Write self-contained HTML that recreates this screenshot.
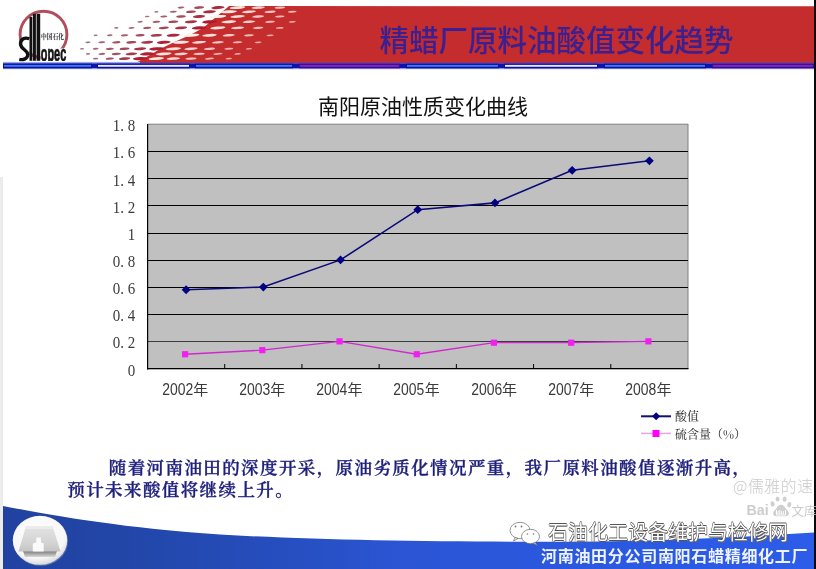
<!DOCTYPE html>
<html><head><meta charset="utf-8">
<style>
html,body{margin:0;padding:0;}
body{width:816px;height:569px;position:relative;overflow:hidden;background:#fff;font-family:"Liberation Sans","Noto Sans CJK SC",sans-serif;}
.abs{position:absolute;}
svg{position:absolute;left:0;top:0;}
.banner-title{position:absolute;left:379.5px;top:16px;font-weight:500;font-family:"Noto Sans CJK SC",sans-serif;font-size:29.5px;color:#3a2090;white-space:nowrap;letter-spacing:0px;line-height:44px;}
.ctitle{position:absolute;left:318px;top:90px;font-family:"Noto Sans CJK SC",sans-serif;font-size:21px;color:#111;white-space:nowrap;line-height:30px;}
.yl{position:absolute;left:95.3px;width:40px;transform:translateY(1.3px) scaleY(1.1);text-align:right;font-family:"Liberation Serif","Noto Serif CJK SC",serif;font-size:15px;line-height:18px;color:#3c3c3c;white-space:pre;}
.xl{position:absolute;top:380.8px;width:60px;text-align:center;font-family:"Liberation Sans","Noto Sans CJK SC",sans-serif;font-size:15px;line-height:18px;color:#3a3a3a;white-space:nowrap;}
.xl .d{display:inline-block;transform:scale(0.93,1.07);transform-origin:100% 60%;margin-left:-2.3px;}
.leg{position:absolute;left:675px;font-family:"Noto Serif CJK SC",serif;font-size:12px;line-height:14px;color:#222;white-space:nowrap;}
.para{position:absolute;white-space:nowrap;font-family:"Liberation Serif","Noto Serif CJK SC",serif;font-weight:600;font-size:17.5px;letter-spacing:1.4px;line-height:21.5px;color:#1e1e7c;-webkit-text-stroke:0.3px #1e1e7c;}
.foot{position:absolute;left:541px;top:544px;letter-spacing:0.7px;font-family:"Noto Sans CJK SC",sans-serif;font-weight:bold;font-size:16px;color:#eef3ff;white-space:nowrap;line-height:22px;}
.wm{position:absolute;left:548px;top:519px;font-family:"Noto Sans CJK SC",sans-serif;font-size:20px;color:#fff;white-space:nowrap;line-height:26px;text-shadow:0.6px 0 0.3px #555,-0.6px 0 0.3px #555,0 0.6px 0.3px #555,0 -0.6px 0.3px #555,0.8px 0.8px 0.6px #777;}
.wm2{position:absolute;left:733px;top:475.5px;letter-spacing:0.6px;font-family:"Noto Sans CJK SC",sans-serif;font-size:15.8px;font-weight:300;color:#cacaca;white-space:nowrap;line-height:20px;}
.bai{position:absolute;left:746.5px;top:502px;font-family:"Liberation Sans",sans-serif;font-weight:bold;font-size:14.2px;color:#cdcdcd;white-space:nowrap;line-height:16px;}
.wk{position:absolute;left:791.5px;top:502.5px;font-family:"Noto Sans CJK SC",sans-serif;font-size:12.5px;color:#cbcbcb;white-space:nowrap;line-height:16px;}
</style></head><body>
<svg width="816" height="569" viewBox="0 0 816 569">
<defs>
<linearGradient id="bg1" gradientUnits="userSpaceOnUse" x1="3" x2="814" y1="0" y2="0"><stop offset="0" stop-color="#2142a0"/><stop offset="0.15" stop-color="#2246a8"/><stop offset="0.3" stop-color="#254cb9"/><stop offset="0.49" stop-color="#2b55d4"/><stop offset="0.86" stop-color="#2a5ae6"/><stop offset="1" stop-color="#2c5ce8"/></linearGradient>
<radialGradient id="cg" cx="0.45" cy="0.35" r="0.7"><stop offset="0" stop-color="#ffffff"/><stop offset="0.75" stop-color="#f6f6f6"/><stop offset="1" stop-color="#d0d0d0"/></radialGradient>
</defs>
<!-- left gray strip -->
<rect x="0" y="177" width="3" height="392" fill="#ececec"/>
<!-- red banner -->
<polygon points="814,6.3 229,6 228,7 216,17 203,28 190,35 174.5,42 160,49 150,55 141,60 137,62.2 814,62.2" fill="#c42c2e"/>
<ellipse cx="181.0" cy="7.6" rx="3.36" ry="1.00" fill="rgb(133,55,75)" opacity="0.77" transform="rotate(-4 181.0 7.6)"/>
<ellipse cx="199.1" cy="7.6" rx="4.98" ry="1.23" fill="rgb(149,43,63)" opacity="0.86" transform="rotate(-4 199.1 7.6)"/>
<ellipse cx="217.9" cy="7.6" rx="6.66" ry="1.48" fill="rgb(166,31,51)" opacity="0.95" transform="rotate(-4 217.9 7.6)"/>
<ellipse cx="237.6" cy="7.6" rx="7.88" ry="1.42" fill="#fff0ea" opacity="0.95" transform="rotate(-4 237.6 7.6)"/>
<ellipse cx="258.2" cy="7.6" rx="6.64" ry="1.25" fill="#fff0ea" opacity="0.86" transform="rotate(-4 258.2 7.6)"/>
<ellipse cx="279.8" cy="7.6" rx="5.35" ry="1.08" fill="#fff0ea" opacity="0.76" transform="rotate(-4 279.8 7.6)"/>
<ellipse cx="156.4" cy="11.8" rx="2.10" ry="0.82" fill="rgb(121,64,84)" opacity="0.71" transform="rotate(-4 156.4 11.8)"/>
<ellipse cx="173.3" cy="11.8" rx="3.49" ry="1.02" fill="rgb(134,54,74)" opacity="0.78" transform="rotate(-4 173.3 11.8)"/>
<ellipse cx="191.0" cy="11.8" rx="4.94" ry="1.23" fill="rgb(149,43,63)" opacity="0.86" transform="rotate(-4 191.0 11.8)"/>
<ellipse cx="209.5" cy="11.8" rx="6.46" ry="1.45" fill="rgb(164,32,52)" opacity="0.94" transform="rotate(-4 209.5 11.8)"/>
<ellipse cx="228.8" cy="11.8" rx="8.11" ry="1.45" fill="#fff0ea" opacity="0.97" transform="rotate(-4 228.8 11.8)"/>
<ellipse cx="249.0" cy="11.8" rx="6.89" ry="1.29" fill="#fff0ea" opacity="0.88" transform="rotate(-4 249.0 11.8)"/>
<ellipse cx="270.1" cy="11.8" rx="5.63" ry="1.12" fill="#fff0ea" opacity="0.78" transform="rotate(-4 270.1 11.8)"/>
<ellipse cx="292.2" cy="11.8" rx="4.30" ry="0.94" fill="#fff0ea" opacity="0.69" transform="rotate(-4 292.2 11.8)"/>
<ellipse cx="147.2" cy="16.5" rx="2.31" ry="0.85" fill="rgb(123,62,82)" opacity="0.72" transform="rotate(-4 147.2 16.5)"/>
<ellipse cx="163.8" cy="16.5" rx="3.55" ry="1.03" fill="rgb(135,53,73)" opacity="0.78" transform="rotate(-4 163.8 16.5)"/>
<ellipse cx="181.0" cy="16.5" rx="4.84" ry="1.21" fill="rgb(148,44,64)" opacity="0.85" transform="rotate(-4 181.0 16.5)"/>
<ellipse cx="199.1" cy="16.5" rx="6.19" ry="1.41" fill="rgb(161,34,54)" opacity="0.93" transform="rotate(-4 199.1 16.5)"/>
<ellipse cx="217.9" cy="16.5" rx="8.42" ry="1.49" fill="#fff0ea" opacity="0.99" transform="rotate(-4 217.9 16.5)"/>
<ellipse cx="237.6" cy="16.5" rx="7.24" ry="1.33" fill="#fff0ea" opacity="0.91" transform="rotate(-4 237.6 16.5)"/>
<ellipse cx="258.2" cy="16.5" rx="6.00" ry="1.17" fill="#fff0ea" opacity="0.81" transform="rotate(-4 258.2 16.5)"/>
<ellipse cx="279.8" cy="16.5" rx="4.71" ry="0.99" fill="#fff0ea" opacity="0.72" transform="rotate(-4 279.8 16.5)"/>
<ellipse cx="140.1" cy="21.8" rx="2.73" ry="0.91" fill="rgb(127,59,79)" opacity="0.74" transform="rotate(-4 140.1 21.8)"/>
<ellipse cx="156.4" cy="21.8" rx="3.83" ry="1.07" fill="rgb(138,51,71)" opacity="0.80" transform="rotate(-4 156.4 21.8)"/>
<ellipse cx="173.3" cy="21.8" rx="4.98" ry="1.23" fill="rgb(149,43,63)" opacity="0.86" transform="rotate(-4 173.3 21.8)"/>
<ellipse cx="191.0" cy="21.8" rx="6.18" ry="1.41" fill="rgb(161,34,54)" opacity="0.93" transform="rotate(-4 191.0 21.8)"/>
<ellipse cx="209.5" cy="21.8" rx="7.44" ry="1.59" fill="rgb(174,25,45)" opacity="1.00" transform="rotate(-4 209.5 21.8)"/>
<ellipse cx="228.8" cy="21.8" rx="7.39" ry="1.35" fill="#fff0ea" opacity="0.92" transform="rotate(-4 228.8 21.8)"/>
<ellipse cx="249.0" cy="21.8" rx="6.18" ry="1.19" fill="#fff0ea" opacity="0.83" transform="rotate(-4 249.0 21.8)"/>
<ellipse cx="270.1" cy="21.8" rx="4.91" ry="1.02" fill="#fff0ea" opacity="0.73" transform="rotate(-4 270.1 21.8)"/>
<ellipse cx="292.2" cy="21.8" rx="3.59" ry="0.85" fill="#fff0ea" opacity="0.63" transform="rotate(-4 292.2 21.8)"/>
<ellipse cx="116.3" cy="27.9" rx="2.15" ry="0.82" fill="rgb(121,63,83)" opacity="0.71" transform="rotate(-4 116.3 27.9)"/>
<ellipse cx="131.4" cy="27.9" rx="3.08" ry="0.96" fill="rgb(130,57,77)" opacity="0.76" transform="rotate(-4 131.4 27.9)"/>
<ellipse cx="147.2" cy="27.9" rx="4.06" ry="1.10" fill="rgb(140,50,70)" opacity="0.81" transform="rotate(-4 147.2 27.9)"/>
<ellipse cx="163.8" cy="27.9" rx="5.07" ry="1.25" fill="rgb(150,42,62)" opacity="0.87" transform="rotate(-4 163.8 27.9)"/>
<ellipse cx="181.0" cy="27.9" rx="6.14" ry="1.40" fill="rgb(161,34,54)" opacity="0.93" transform="rotate(-4 181.0 27.9)"/>
<ellipse cx="199.1" cy="27.9" rx="7.25" ry="1.56" fill="rgb(172,26,46)" opacity="0.99" transform="rotate(-4 199.1 27.9)"/>
<ellipse cx="217.9" cy="27.9" rx="7.61" ry="1.38" fill="#fff0ea" opacity="0.93" transform="rotate(-4 217.9 27.9)"/>
<ellipse cx="237.6" cy="27.9" rx="6.43" ry="1.22" fill="#fff0ea" opacity="0.84" transform="rotate(-4 237.6 27.9)"/>
<ellipse cx="258.2" cy="27.9" rx="5.19" ry="1.06" fill="#fff0ea" opacity="0.75" transform="rotate(-4 258.2 27.9)"/>
<ellipse cx="279.8" cy="27.9" rx="3.90" ry="0.89" fill="#fff0ea" opacity="0.66" transform="rotate(-4 279.8 27.9)"/>
<ellipse cx="95.6" cy="35.3" rx="2.04" ry="0.81" fill="rgb(120,64,84)" opacity="0.70" transform="rotate(-4 95.6 35.3)"/>
<ellipse cx="109.8" cy="35.3" rx="2.87" ry="0.93" fill="rgb(128,58,78)" opacity="0.75" transform="rotate(-4 109.8 35.3)"/>
<ellipse cx="124.6" cy="35.3" rx="3.73" ry="1.05" fill="rgb(137,52,72)" opacity="0.79" transform="rotate(-4 124.6 35.3)"/>
<ellipse cx="140.1" cy="35.3" rx="4.63" ry="1.18" fill="rgb(146,45,65)" opacity="0.84" transform="rotate(-4 140.1 35.3)"/>
<ellipse cx="156.4" cy="35.3" rx="5.58" ry="1.32" fill="rgb(155,38,58)" opacity="0.90" transform="rotate(-4 156.4 35.3)"/>
<ellipse cx="173.3" cy="35.3" rx="6.57" ry="1.46" fill="rgb(165,31,51)" opacity="0.95" transform="rotate(-4 173.3 35.3)"/>
<ellipse cx="191.0" cy="35.3" rx="8.40" ry="1.49" fill="#fff0ea" opacity="0.99" transform="rotate(-4 191.0 35.3)"/>
<ellipse cx="209.5" cy="35.3" rx="7.29" ry="1.34" fill="#fff0ea" opacity="0.91" transform="rotate(-4 209.5 35.3)"/>
<ellipse cx="228.8" cy="35.3" rx="6.13" ry="1.18" fill="#fff0ea" opacity="0.82" transform="rotate(-4 228.8 35.3)"/>
<ellipse cx="249.0" cy="35.3" rx="4.92" ry="1.02" fill="#fff0ea" opacity="0.73" transform="rotate(-4 249.0 35.3)"/>
<ellipse cx="270.1" cy="35.3" rx="3.65" ry="0.85" fill="#fff0ea" opacity="0.64" transform="rotate(-4 270.1 35.3)"/>
<ellipse cx="88.0" cy="42.3" rx="2.62" ry="0.89" fill="rgb(126,60,80)" opacity="0.73" transform="rotate(-4 88.0 42.3)"/>
<ellipse cx="101.8" cy="42.3" rx="3.41" ry="1.00" fill="rgb(134,54,74)" opacity="0.78" transform="rotate(-4 101.8 42.3)"/>
<ellipse cx="116.3" cy="42.3" rx="4.23" ry="1.12" fill="rgb(142,48,68)" opacity="0.82" transform="rotate(-4 116.3 42.3)"/>
<ellipse cx="131.4" cy="42.3" rx="5.09" ry="1.25" fill="rgb(150,42,62)" opacity="0.87" transform="rotate(-4 131.4 42.3)"/>
<ellipse cx="147.2" cy="42.3" rx="5.99" ry="1.38" fill="rgb(159,35,55)" opacity="0.92" transform="rotate(-4 147.2 42.3)"/>
<ellipse cx="163.8" cy="42.3" rx="6.93" ry="1.52" fill="rgb(169,29,49)" opacity="0.97" transform="rotate(-4 163.8 42.3)"/>
<ellipse cx="181.0" cy="42.3" rx="8.07" ry="1.44" fill="#fff0ea" opacity="0.97" transform="rotate(-4 181.0 42.3)"/>
<ellipse cx="199.1" cy="42.3" rx="6.99" ry="1.30" fill="#fff0ea" opacity="0.89" transform="rotate(-4 199.1 42.3)"/>
<ellipse cx="217.9" cy="42.3" rx="5.86" ry="1.15" fill="#fff0ea" opacity="0.80" transform="rotate(-4 217.9 42.3)"/>
<ellipse cx="237.6" cy="42.3" rx="4.67" ry="0.99" fill="#fff0ea" opacity="0.71" transform="rotate(-4 237.6 42.3)"/>
<ellipse cx="258.2" cy="42.3" rx="3.44" ry="0.83" fill="#fff0ea" opacity="0.62" transform="rotate(-4 258.2 42.3)"/>
<ellipse cx="82.0" cy="48.8" rx="2.03" ry="0.80" fill="rgb(120,64,84)" opacity="0.70" transform="rotate(-4 82.0 48.8)"/>
<ellipse cx="95.6" cy="48.8" rx="2.98" ry="0.94" fill="rgb(129,57,77)" opacity="0.75" transform="rotate(-4 95.6 48.8)"/>
<ellipse cx="109.8" cy="48.8" rx="3.97" ry="1.09" fill="rgb(139,50,70)" opacity="0.81" transform="rotate(-4 109.8 48.8)"/>
<ellipse cx="124.6" cy="48.8" rx="5.00" ry="1.24" fill="rgb(150,43,63)" opacity="0.86" transform="rotate(-4 124.6 48.8)"/>
<ellipse cx="140.1" cy="48.8" rx="6.09" ry="1.39" fill="rgb(160,35,55)" opacity="0.92" transform="rotate(-4 140.1 48.8)"/>
<ellipse cx="156.4" cy="48.8" rx="7.22" ry="1.56" fill="rgb(172,27,47)" opacity="0.98" transform="rotate(-4 156.4 48.8)"/>
<ellipse cx="173.3" cy="48.8" rx="7.73" ry="1.40" fill="#fff0ea" opacity="0.94" transform="rotate(-4 173.3 48.8)"/>
<ellipse cx="191.0" cy="48.8" rx="6.67" ry="1.26" fill="#fff0ea" opacity="0.86" transform="rotate(-4 191.0 48.8)"/>
<ellipse cx="209.5" cy="48.8" rx="5.56" ry="1.11" fill="#fff0ea" opacity="0.78" transform="rotate(-4 209.5 48.8)"/>
<ellipse cx="228.8" cy="48.8" rx="4.40" ry="0.95" fill="#fff0ea" opacity="0.69" transform="rotate(-4 228.8 48.8)"/>
<ellipse cx="249.0" cy="48.8" rx="3.18" ry="0.79" fill="#fff0ea" opacity="0.60" transform="rotate(-4 249.0 48.8)"/>
<ellipse cx="88.0" cy="53.9" rx="2.23" ry="0.83" fill="rgb(122,63,83)" opacity="0.71" transform="rotate(-4 88.0 53.9)"/>
<ellipse cx="101.8" cy="53.9" rx="3.38" ry="1.00" fill="rgb(133,54,74)" opacity="0.78" transform="rotate(-4 101.8 53.9)"/>
<ellipse cx="116.3" cy="53.9" rx="4.57" ry="1.17" fill="rgb(145,46,66)" opacity="0.84" transform="rotate(-4 116.3 53.9)"/>
<ellipse cx="131.4" cy="53.9" rx="5.82" ry="1.36" fill="rgb(158,37,57)" opacity="0.91" transform="rotate(-4 131.4 53.9)"/>
<ellipse cx="147.2" cy="53.9" rx="7.12" ry="1.54" fill="rgb(171,27,47)" opacity="0.98" transform="rotate(-4 147.2 53.9)"/>
<ellipse cx="163.8" cy="53.9" rx="7.78" ry="1.40" fill="#fff0ea" opacity="0.95" transform="rotate(-4 163.8 53.9)"/>
<ellipse cx="181.0" cy="53.9" rx="6.75" ry="1.27" fill="#fff0ea" opacity="0.87" transform="rotate(-4 181.0 53.9)"/>
<ellipse cx="199.1" cy="53.9" rx="5.67" ry="1.12" fill="#fff0ea" opacity="0.79" transform="rotate(-4 199.1 53.9)"/>
<ellipse cx="217.9" cy="53.9" rx="4.53" ry="0.97" fill="#fff0ea" opacity="0.70" transform="rotate(-4 217.9 53.9)"/>
<ellipse cx="237.6" cy="53.9" rx="3.35" ry="0.81" fill="#fff0ea" opacity="0.61" transform="rotate(-4 237.6 53.9)"/>
<ellipse cx="95.6" cy="58.6" rx="2.72" ry="0.90" fill="rgb(127,59,79)" opacity="0.74" transform="rotate(-4 95.6 58.6)"/>
<ellipse cx="109.8" cy="58.6" rx="4.13" ry="1.11" fill="rgb(141,49,69)" opacity="0.82" transform="rotate(-4 109.8 58.6)"/>
<ellipse cx="124.6" cy="58.6" rx="5.62" ry="1.33" fill="rgb(156,38,58)" opacity="0.90" transform="rotate(-4 124.6 58.6)"/>
<ellipse cx="140.1" cy="58.6" rx="7.16" ry="1.55" fill="rgb(171,27,47)" opacity="0.98" transform="rotate(-4 140.1 58.6)"/>
<ellipse cx="156.4" cy="58.6" rx="7.73" ry="1.40" fill="#fff0ea" opacity="0.94" transform="rotate(-4 156.4 58.6)"/>
<ellipse cx="173.3" cy="58.6" rx="6.71" ry="1.26" fill="#fff0ea" opacity="0.87" transform="rotate(-4 173.3 58.6)"/>
<ellipse cx="191.0" cy="58.6" rx="5.65" ry="1.12" fill="#fff0ea" opacity="0.79" transform="rotate(-4 191.0 58.6)"/>
<ellipse cx="209.5" cy="58.6" rx="4.54" ry="0.97" fill="#fff0ea" opacity="0.70" transform="rotate(-4 209.5 58.6)"/>
<ellipse cx="228.8" cy="58.6" rx="3.38" ry="0.82" fill="#fff0ea" opacity="0.62" transform="rotate(-4 228.8 58.6)"/>
<!-- band -->
<linearGradient id="pg" x1="0" x2="0" y1="0" y2="1"><stop offset="0" stop-color="#a8356a"/><stop offset="1" stop-color="#5a2a98"/></linearGradient><linearGradient id="gg" x1="0" x2="0" y1="0" y2="1"><stop offset="0" stop-color="#b8b8f4"/><stop offset="1" stop-color="#ffffff"/></linearGradient><linearGradient id="bgr" x1="0" x2="0" y1="0" y2="1"><stop offset="0" stop-color="#d4d8fa"/><stop offset="1" stop-color="#3a48d8"/></linearGradient><rect x="3" y="61.8" width="137" height="2" fill="url(#bgr)"/><rect x="140" y="62" width="674" height="1.8" fill="url(#pg)"/><rect x="3" y="68.2" width="811" height="1.8" fill="url(#gg)"/><rect x="3" y="63.7" width="811" height="4.6" fill="#0a14b0"/>
<rect x="3" y="63.7" width="89" height="4.6" fill="#0a1290"/><rect x="4" y="64.9" width="87" height="1.9" fill="#3d78ff"/>
<rect x="97" y="63.7" width="93" height="4.6" fill="#0a1290"/><rect x="98" y="64.9" width="91" height="1.9" fill="#e4e4ff"/>
<rect x="195" y="63.7" width="98" height="4.6" fill="#0a1290"/><rect x="196" y="64.9" width="96" height="1.9" fill="#3d78ff"/>
<rect x="299" y="63.7" width="101" height="4.6" fill="#3a0c88"/><rect x="300" y="64.9" width="99" height="1.9" fill="#7a28c8"/>
<rect x="406" y="63.7" width="93" height="4.6" fill="#0a1290"/><rect x="407" y="64.9" width="91" height="1.9" fill="#3d78ff"/>
<rect x="504" y="63.7" width="94" height="4.6" fill="#0a1290"/><rect x="505" y="64.9" width="92" height="1.9" fill="#e4e4ff"/>
<rect x="604" y="63.7" width="102" height="4.6" fill="#0a1290"/><rect x="605" y="64.9" width="100" height="1.9" fill="#3d78ff"/>
<rect x="712" y="63.7" width="102" height="4.6" fill="#3a0c88"/><rect x="713" y="64.9" width="100" height="1.9" fill="#7a28c8"/>

<!-- logo -->
<defs><clipPath id="lc"><rect x="0" y="0" width="120" height="61"/></clipPath></defs>
<circle cx="43.5" cy="34.6" r="23.4" fill="none" stroke="#b24e5c" stroke-width="2.9"/>
<rect x="40.5" y="48.5" width="28" height="13" fill="#fff"/>
<rect x="17" y="41" width="12.5" height="21" fill="#fff"/>
<rect x="29.5" y="17" width="2.8" height="43.8" fill="#111"/>
<rect x="32.9" y="13.8" width="3" height="47" fill="#111"/>
<rect x="36.6" y="13.8" width="3.6" height="47" fill="#111"/>
<path d="M29.3 38.8 C24.5 36.8 20 39.5 20.6 44.5 C21.2 49.5 28 50.2 27.8 54.8 C27.6 58.8 23.5 60.2 19.3 59.4" fill="none" stroke="#111" stroke-width="3.4"/>
<g clip-path="url(#lc)"><text x="40.8" y="60.8" font-family="Liberation Sans, sans-serif" font-weight="bold" font-size="21.5" textLength="25.4" lengthAdjust="spacingAndGlyphs" fill="#111" stroke="#111" stroke-width="0.7">opec</text></g>
<text x="41" y="38.6" font-family="Noto Serif CJK SC, serif" font-weight="bold" font-size="6.6" textLength="23" lengthAdjust="spacingAndGlyphs" fill="#222">中国石化</text>
<!-- plot -->
<rect x="147.5" y="124.2" width="540.5" height="244.3" fill="#c0c0c0"/>
<rect x="147.5" y="123.7" width="540.5" height="1" fill="#808080"/>
<rect x="687.5" y="124" width="1" height="244.5" fill="#808080"/>
<rect x="147.5" y="341" width="540.5" height="1" fill="#3c3c3c"/>
<rect x="147.5" y="314" width="540.5" height="1" fill="#000"/>
<rect x="147.5" y="287" width="540.5" height="1" fill="#000"/>
<rect x="147.5" y="260" width="540.5" height="1" fill="#000"/>
<rect x="147.5" y="233" width="540.5" height="1" fill="#000"/>
<rect x="147.5" y="205" width="540.5" height="1" fill="#000"/>
<rect x="147.5" y="178" width="540.5" height="1" fill="#000"/>
<rect x="147.5" y="151" width="540.5" height="1" fill="#000"/>

<rect x="147" y="124" width="1.2" height="245.5" fill="#000"/>
<rect x="147" y="368" width="541.5" height="1.3" fill="#000"/>
<rect x="224.21" y="364" width="1" height="5" fill="#000"/>
<rect x="301.43" y="364" width="1" height="5" fill="#000"/>
<rect x="378.64" y="364" width="1" height="5" fill="#000"/>
<rect x="455.86" y="364" width="1" height="5" fill="#000"/>
<rect x="533.07" y="364" width="1" height="5" fill="#000"/>
<rect x="610.29" y="364" width="1" height="5" fill="#000"/>

<polyline points="186.11,289.76 263.32,287.05 340.54,259.90 417.75,209.67 494.96,202.89 572.18,170.31 649.39,160.80" fill="none" stroke="#0a0a78" stroke-width="1.6"/>
<path d="M186.11 285.37 l4.4 4.4 l-4.4 4.4 l-4.4 -4.4z" fill="#000080"/><path d="M263.32 282.65 l4.4 4.4 l-4.4 4.4 l-4.4 -4.4z" fill="#000080"/><path d="M340.54 255.50 l4.4 4.4 l-4.4 4.4 l-4.4 -4.4z" fill="#000080"/><path d="M417.75 205.27 l4.4 4.4 l-4.4 4.4 l-4.4 -4.4z" fill="#000080"/><path d="M494.96 198.49 l4.4 4.4 l-4.4 4.4 l-4.4 -4.4z" fill="#000080"/><path d="M572.18 165.91 l4.4 4.4 l-4.4 4.4 l-4.4 -4.4z" fill="#000080"/><path d="M649.39 156.40 l4.4 4.4 l-4.4 4.4 l-4.4 -4.4z" fill="#000080"/>
<polyline points="185.11,354.25 262.32,350.17 339.54,341.35 416.75,354.25 493.96,342.71 571.18,342.71 648.39,341.35" fill="none" stroke="#d028d0" stroke-width="1.3"/>
<rect x="182.01" y="351.15" width="6.2" height="6.2" fill="#f020f0"/><rect x="259.22" y="347.07" width="6.2" height="6.2" fill="#f020f0"/><rect x="336.44" y="338.25" width="6.2" height="6.2" fill="#f020f0"/><rect x="413.65" y="351.15" width="6.2" height="6.2" fill="#f020f0"/><rect x="490.86" y="339.61" width="6.2" height="6.2" fill="#f020f0"/><rect x="568.08" y="339.61" width="6.2" height="6.2" fill="#f020f0"/><rect x="645.29" y="338.25" width="6.2" height="6.2" fill="#f020f0"/>
<!-- legend -->
<rect x="641" y="415.3" width="30" height="2" fill="#12126a"/>
<path d="M656.1 412.2 l4 4 l-4 4 l-4 -4z" fill="#000080"/>
<rect x="641" y="432.7" width="30" height="1.4" fill="#eca0ec"/>
<rect x="652.5" y="430" width="7" height="7" fill="#ff00ff"/>
<!-- bottom band -->
<path d="M3 506 C45 514 120 528 220 534.5 C320 540.5 470 542.5 600 541.5 C690 540 760 536 814 532.5 L814 569 L3 569 Z" fill="url(#bg1)"/>
<ellipse cx="40.6" cy="541" rx="27.4" ry="24.8" fill="#9aa3c8" opacity="0.5"/>
<ellipse cx="40" cy="540.3" rx="27.2" ry="24.5" fill="url(#cg)"/>
<linearGradient id="tg" x1="0" x2="0" y1="0" y2="1"><stop offset="0" stop-color="#e4e4e4"/><stop offset="0.7" stop-color="#d2d2d2"/><stop offset="1" stop-color="#c4c4c4"/></linearGradient>
<linearGradient id="sg" x1="0" x2="0" y1="0" y2="1"><stop offset="0" stop-color="#7a7a7a"/><stop offset="1" stop-color="#d8d8d8"/></linearGradient>
<path d="M23 551 L57 551 L55 557 L25 557 Z" fill="url(#sg)"/>
<path d="M26 526 L52.5 526 L60.5 551.5 L18.5 551.5 Z" fill="url(#tg)"/>
<path d="M26 526 L52.5 526 L53.5 529 L25 529 Z" fill="#ececec"/>
<path d="M36.4 537.6 L40.8 537.6 L41 542.5 L43.7 543.5 L43.7 551.5 L32.8 551.5 L32.8 543.5 L36.2 542.5 Z" fill="#fafafa"/>
<!-- wechat icon -->
<g transform="translate(509,521)" fill="#fff" stroke="#6a6a6a" stroke-width="0.7">
<ellipse cx="11" cy="9.5" rx="10" ry="8.2"/>
<path d="M6 16.5 L4.5 20 L9 17.5 Z"/>
<ellipse cx="21.5" cy="15.5" rx="9" ry="7.2"/>
<path d="M26 21.5 L28.5 24.5 L24 22.3 Z"/>
</g>
<g fill="#777"><circle cx="515.5" cy="526.5" r="0.9"/><circle cx="521.5" cy="526.5" r="0.9"/><circle cx="527.5" cy="534" r="0.8"/><circle cx="533.5" cy="534" r="0.8"/></g>
<!-- baidu paw -->
<g fill="#cfcfcf">
<ellipse cx="772.6" cy="504" rx="2" ry="2.7" transform="rotate(-20 772.6 504)"/>
<ellipse cx="777.6" cy="499" rx="2" ry="2.6"/>
<ellipse cx="784.6" cy="499.2" rx="2" ry="2.6"/>
<ellipse cx="789.3" cy="504.6" rx="2" ry="2.7" transform="rotate(20 789.3 504.6)"/>
<path d="M781 504.8 C778 504.8 776.5 508.5 774.5 510.5 C772 513 773 516.3 776.5 516.3 L785.5 516.3 C789 516.3 790 513 787.5 510.5 C785.5 508.5 784 504.8 781 504.8 Z"/>
</g>
<path d="M776.5 510 L776.5 515 L785.5 515 L785.5 510" fill="none" stroke="#fff" stroke-width="1"/>
<text x="777.3" y="514.3" font-family="Liberation Sans, sans-serif" font-weight="bold" font-size="5.5" fill="#fff">du</text>
<!-- right black line -->
<rect x="814" y="0" width="2" height="569" fill="#0a0a0a"/>
</svg>
<div class="banner-title">精蜡厂原料油酸值变化趋势</div>
<div class="ctitle">南阳原油性质变化曲线</div>
<div class="yl" style="top:359.5px">0</div>
<div class="yl" style="top:332.4px">0. 2</div>
<div class="yl" style="top:305.2px">0. 4</div>
<div class="yl" style="top:278.1px">0. 6</div>
<div class="yl" style="top:250.9px">0. 8</div>
<div class="yl" style="top:223.8px">1</div>
<div class="yl" style="top:196.6px">1. 2</div>
<div class="yl" style="top:169.5px">1. 4</div>
<div class="yl" style="top:142.3px">1. 6</div>
<div class="yl" style="top:115.2px">1. 8</div>

<div class="xl" style="left:155.1px"><span class="d">2002</span>年</div>
<div class="xl" style="left:232.3px"><span class="d">2003</span>年</div>
<div class="xl" style="left:309.5px"><span class="d">2004</span>年</div>
<div class="xl" style="left:386.8px"><span class="d">2005</span>年</div>
<div class="xl" style="left:464.0px"><span class="d">2006</span>年</div>
<div class="xl" style="left:541.2px"><span class="d">2007</span>年</div>
<div class="xl" style="left:618.4px"><span class="d">2008</span>年</div>

<div class="leg" style="top:409px">酸值</div>
<div class="leg" style="top:426.5px">硫含量（%）</div>
<div class="para" style="left:108.8px;top:458px">随着河南油田的深度开采，原油劣质化情况严重，我厂原料油酸值逐渐升高，</div>
<div class="para" style="left:67.3px;top:480px">预计未来酸值将继续上升。</div>
<div class="wm">石油化工设备维护与检修网</div>
<div class="foot">河南油田分公司南阳石蜡精细化工厂</div>
<div class="wm2">@儒雅的速</div>
<div class="bai">Bai</div>
<div class="wk">文库</div>
</body></html>
